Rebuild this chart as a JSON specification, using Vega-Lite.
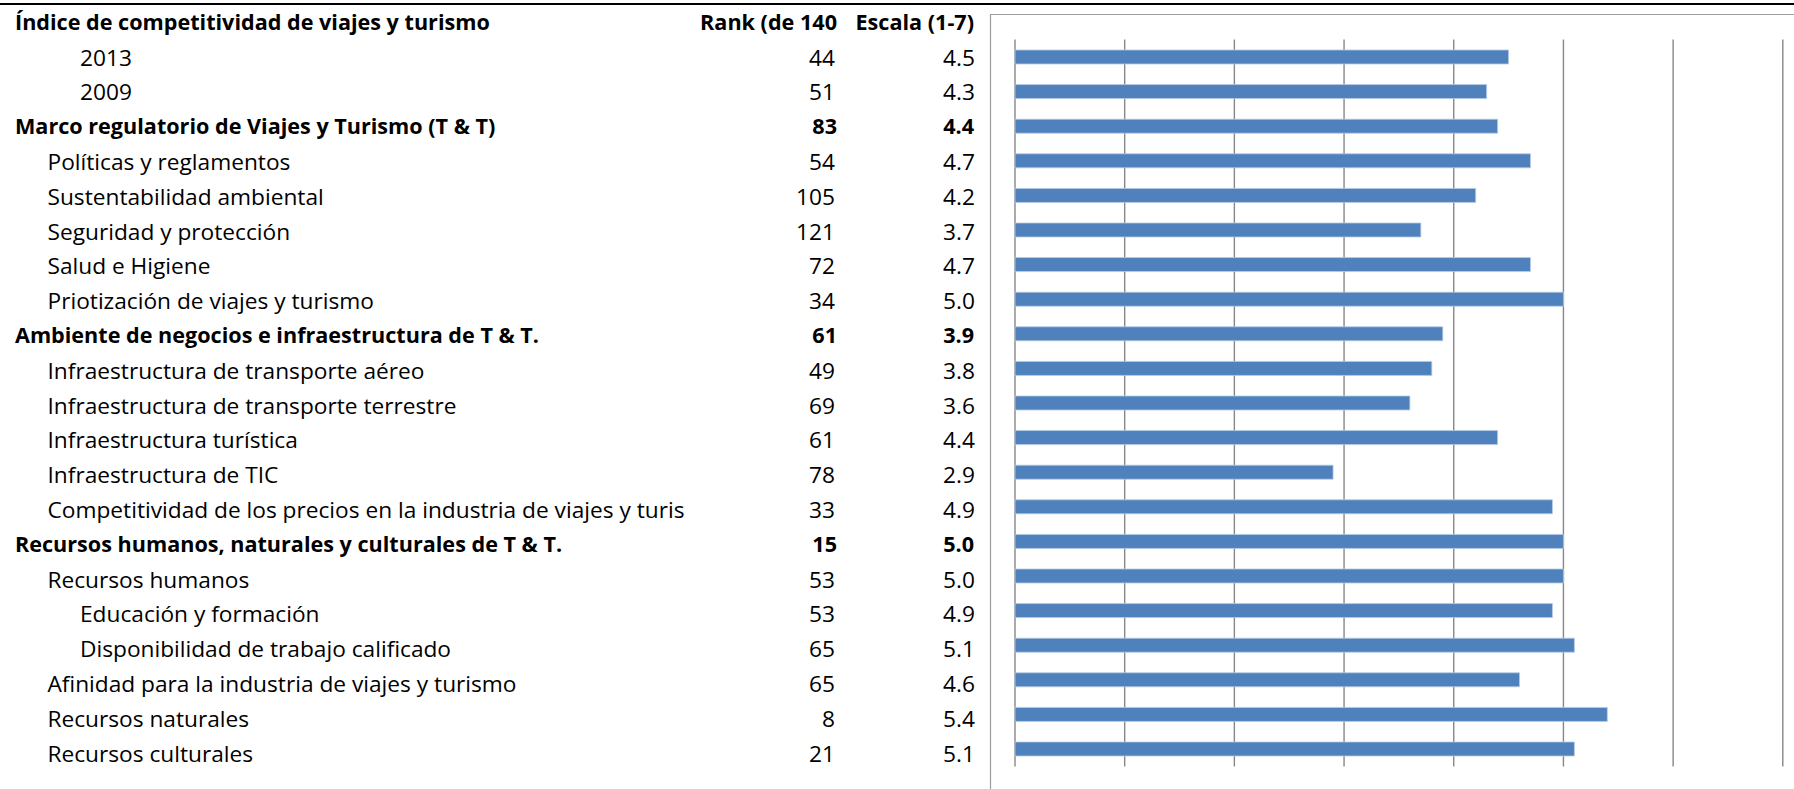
{
  "$schema": "https://vega.github.io/schema/vega-lite/v6.json",
  "width": 1794,
  "height": 789,
  "padding": 0,
  "autosize": {"type": "none"},
  "background": "white",
  "config": {"view": {"stroke": null}, "text": {"font": "Open Sans", "fontSize": 22.7, "color": "black", "baseline": "middle"}},
  "data": {"values": [
    {"label": "Índice de competitividad de viajes y turismo", "level": 0, "bold": true, "rank": null, "score": null},
    {"label": "2013", "level": 2, "bold": false, "rank": 44, "score": 4.5},
    {"label": "2009", "level": 2, "bold": false, "rank": 51, "score": 4.3},
    {"label": "Marco regulatorio de Viajes y Turismo (T & T)", "level": 0, "bold": true, "rank": 83, "score": 4.4},
    {"label": "Políticas y reglamentos", "level": 1, "bold": false, "rank": 54, "score": 4.7},
    {"label": "Sustentabilidad ambiental", "level": 1, "bold": false, "rank": 105, "score": 4.2},
    {"label": "Seguridad y protección", "level": 1, "bold": false, "rank": 121, "score": 3.7},
    {"label": "Salud e Higiene", "level": 1, "bold": false, "rank": 72, "score": 4.7},
    {"label": "Priotización de viajes y turismo", "level": 1, "bold": false, "rank": 34, "score": 5.0},
    {"label": "Ambiente de negocios e infraestructura de T & T.", "level": 0, "bold": true, "rank": 61, "score": 3.9},
    {"label": "Infraestructura de transporte aéreo", "level": 1, "bold": false, "rank": 49, "score": 3.8},
    {"label": "Infraestructura de transporte terrestre", "level": 1, "bold": false, "rank": 69, "score": 3.6},
    {"label": "Infraestructura turística", "level": 1, "bold": false, "rank": 61, "score": 4.4},
    {"label": "Infraestructura de TIC", "level": 1, "bold": false, "rank": 78, "score": 2.9},
    {"label": "Competitividad de los precios en la industria de viajes y turismo", "level": 1, "bold": false, "rank": 33, "score": 4.9},
    {"label": "Recursos humanos, naturales y culturales de T & T.", "level": 0, "bold": true, "rank": 15, "score": 5.0},
    {"label": "Recursos humanos", "level": 1, "bold": false, "rank": 53, "score": 5.0},
    {"label": "Educación y formación", "level": 2, "bold": false, "rank": 53, "score": 4.9},
    {"label": "Disponibilidad de trabajo calificado", "level": 2, "bold": false, "rank": 65, "score": 5.1},
    {"label": "Afinidad para la industria de viajes y turismo", "level": 1, "bold": false, "rank": 65, "score": 4.6},
    {"label": "Recursos naturales", "level": 1, "bold": false, "rank": 8, "score": 5.4},
    {"label": "Recursos culturales", "level": 1, "bold": false, "rank": 21, "score": 5.1}
  ]},
  "resolve": {"scale": {"x": "independent", "y": "independent"}},
  "layer": [
    {
      "data": {"values": [{"edge": "top"}]},
      "mark": {"type": "rule", "color": "black", "strokeWidth": 2.2},
      "encoding": {"x": {"value": 0}, "x2": {"value": 1794}, "y": {"value": 4}}
    },
    {
      "data": {"values": [{"edge": "frame"}]},
      "mark": {"type": "rect", "fill": null, "fillOpacity": 0, "stroke": "#9c9c9c", "strokeWidth": 1.2},
      "encoding": {"x": {"value": 990.5}, "x2": {"value": 1810}, "y": {"value": 14.5}, "y2": {"value": 810}}
    },
    {
      "data": {"values": [{"g": 0}, {"g": 1}, {"g": 2}, {"g": 3}, {"g": 4}, {"g": 5}, {"g": 6}, {"g": 7}]},
      "mark": {"type": "rule", "color": "#878787", "strokeWidth": 1.4},
      "encoding": {
        "x": {"field": "g", "type": "quantitative", "axis": null, "scale": {"domain": [0, 7], "range": [1015, 1782.8]}},
        "y": {"value": 39.5}, "y2": {"value": 766.5}
      }
    },
    {
      "transform": [{"filter": "datum.score != null"}],
      "mark": {"type": "bar", "fill": "#4F81BD", "stroke": "#b8cce4", "strokeWidth": 0.8},
      "encoding": {
        "x": {"field": "score", "type": "quantitative", "axis": null, "scale": {"domain": [0, 7], "range": [1015, 1782.8]}},
        "y": {"field": "label", "type": "nominal", "axis": null,
          "scale": {"type": "band", "domain": [
            "Índice de competitividad de viajes y turismo", "2013", "2009",
            "Marco regulatorio de Viajes y Turismo (T & T)", "Políticas y reglamentos", "Sustentabilidad ambiental",
            "Seguridad y protección", "Salud e Higiene", "Priotización de viajes y turismo",
            "Ambiente de negocios e infraestructura de T & T.", "Infraestructura de transporte aéreo",
            "Infraestructura de transporte terrestre", "Infraestructura turística", "Infraestructura de TIC",
            "Competitividad de los precios en la industria de viajes y turismo",
            "Recursos humanos, naturales y culturales de T & T.", "Recursos humanos", "Educación y formación",
            "Disponibilidad de trabajo calificado", "Afinidad para la industria de viajes y turismo",
            "Recursos naturales", "Recursos culturales"],
            "paddingInner": 0.595, "paddingOuter": 0.699, "align": 0.318, "round": false}}
      }
    },
    {
      "encoding": {
        "y": {"field": "label", "type": "nominal", "axis": null,
          "scale": {"type": "band", "domain": [
            "Índice de competitividad de viajes y turismo", "2013", "2009",
            "Marco regulatorio de Viajes y Turismo (T & T)", "Políticas y reglamentos", "Sustentabilidad ambiental",
            "Seguridad y protección", "Salud e Higiene", "Priotización de viajes y turismo",
            "Ambiente de negocios e infraestructura de T & T.", "Infraestructura de transporte aéreo",
            "Infraestructura de transporte terrestre", "Infraestructura turística", "Infraestructura de TIC",
            "Competitividad de los precios en la industria de viajes y turismo",
            "Recursos humanos, naturales y culturales de T & T.", "Recursos humanos", "Educación y formación",
            "Disponibilidad de trabajo calificado", "Afinidad para la industria de viajes y turismo",
            "Recursos naturales", "Recursos culturales"],
            "paddingInner": 0, "paddingOuter": 0.336, "align": 0.2735, "round": false}}
      },
      "layer": [
        {
          "transform": [{"filter": "!datum.bold"}],
          "mark": {"type": "text", "align": "left", "limit": 649, "ellipsis": "\u200b"},
          "encoding": {
            "x": {"field": "level", "type": "quantitative", "axis": null, "scale": {"domain": [0, 2], "range": [15, 80]}},
            "text": {"field": "label"}
          }
        },
        {
          "transform": [{"filter": "datum.bold"}],
          "mark": {"type": "text", "align": "left", "fontWeight": "bold", "fontSize": 21.6},
          "encoding": {
            "x": {"field": "level", "type": "quantitative", "axis": null, "scale": {"domain": [0, 2], "range": [15, 80]}},
            "text": {"field": "label"}
          }
        },
        {
          "transform": [{"filter": "!datum.bold"}],
          "mark": {"type": "text", "align": "right"},
          "encoding": {"x": {"value": 835}, "text": {"field": "rank", "type": "quantitative", "format": "d"}}
        },
        {
          "transform": [{"filter": "datum.bold"}],
          "mark": {"type": "text", "align": "right", "fontWeight": "bold", "fontSize": 21.6},
          "encoding": {"x": {"value": 837}, "text": {"condition": {"test": "datum.rank == null", "value": "Rank (de 140"}, "field": "rank", "type": "quantitative", "format": "d"}}
        },
        {
          "transform": [{"filter": "!datum.bold"}],
          "mark": {"type": "text", "align": "right"},
          "encoding": {"x": {"value": 975}, "text": {"field": "score", "type": "quantitative", "format": ".1f"}}
        },
        {
          "transform": [{"filter": "datum.bold"}],
          "mark": {"type": "text", "align": "right", "fontWeight": "bold", "fontSize": 21.6},
          "encoding": {"x": {"value": 974}, "text": {"condition": {"test": "datum.score == null", "value": "Escala (1-7)"}, "field": "score", "type": "quantitative", "format": ".1f"}}
        }
      ]
    }
  ]
}
